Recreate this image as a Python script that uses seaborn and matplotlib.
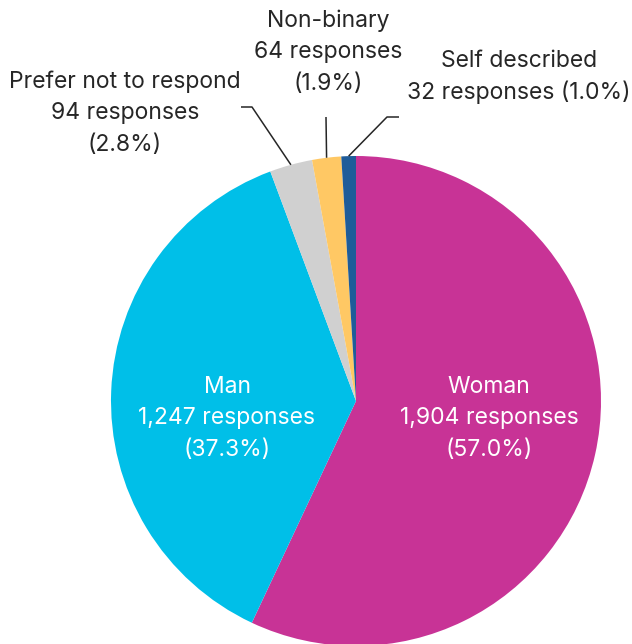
import matplotlib
matplotlib.use("Agg")
import matplotlib.pyplot as plt
import seaborn as sns
import numpy as np

categories = ["Woman", "Man", "Prefer not to respond", "Non-binary", "Self described"]
responses = [1904, 1247, 94, 64, 32]
percent_labels = ["57.0%", "37.3%", "2.8%", "1.9%", "1.0%"]
count_labels = ["1,904", "1,247", "94", "64", "32"]
colors = ["#C83396", "#00BFE8", "#D0D0D0", "#FFC864", "#1F5C99"]

sns.set_theme(style="white")
plt.rcParams["font.family"] = ["Inter", "DejaVu Sans"]

W, H = 632, 644
fig = plt.figure(figsize=(W / 100, H / 100), dpi=100)
ax = fig.add_axes([0, 0, 1, 1])

cx, cy, R = 356, H - 401, 245
palette = sns.color_palette(colors)
wedges, _ = ax.pie(responses, colors=palette, startangle=90, counterclock=False,
                   center=(cx, cy), radius=R, wedgeprops=dict(linewidth=0))
ax.set_xlim(0, W)
ax.set_ylim(0, H)
ax.set_aspect("equal")
ax.axis("off")

fs = 16.5
dark = "#262626"

def lines_at(x, ys, texts, color):
    for y, t in zip(ys, texts):
        ax.text(x, H - y, t, ha="center", va="center", fontsize=fs, color=color)

# inside labels
lines_at(489, [387, 418, 450], ["Woman", f"{count_labels[0]} responses", f"({percent_labels[0]})"], "white")
lines_at(227, [387, 418, 450], ["Man", f"{count_labels[1]} responses", f"({percent_labels[1]})"], "white")

# outside labels
lines_at(125, [82, 113, 145], [categories[2], f"{count_labels[2]} responses", f"({percent_labels[2]})"], dark)
lines_at(328, [21, 52, 84], [categories[3], f"{count_labels[3]} responses", f"({percent_labels[3]})"], dark)
lines_at(519, [61, 92], [categories[4], f"{count_labels[4]} responses ({percent_labels[4]})"], dark)

# leader lines, starting at the wedge mid-angle on the rim
elbows = {2: [(252, 107), (241, 107)], 3: [(326, 117)], 4: [(387, 117), (399, 117)]}
for i, pts in elbows.items():
    w = wedges[i]
    ang = np.deg2rad((w.theta1 + w.theta2) / 2)
    sx, sy = cx + R * np.cos(ang), cy + R * np.sin(ang)
    xs = [sx] + [p[0] for p in pts]
    ys = [sy] + [H - p[1] for p in pts]
    ax.plot(xs, ys, color=dark, lw=1.1, solid_capstyle="butt")

fig.savefig("out.png", dpi=100, facecolor="white")
